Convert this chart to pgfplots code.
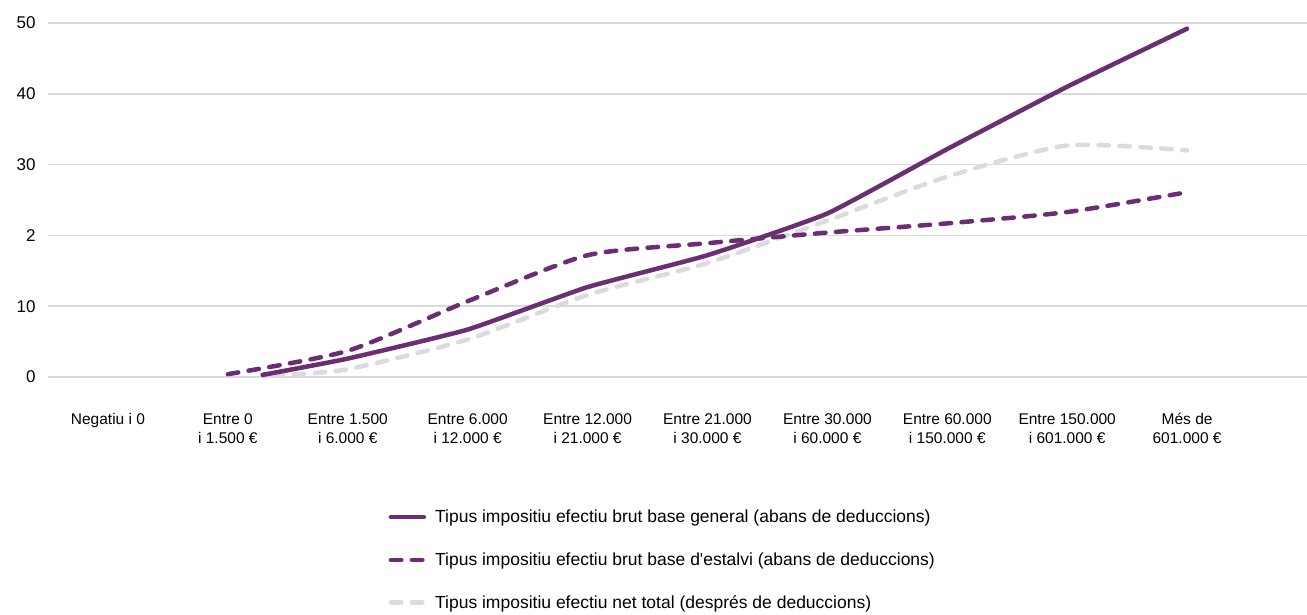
\documentclass[border=0pt]{standalone}
\usepackage{fontspec}
\setmainfont{Liberation Sans}
\usepackage{pgfplots}
\pgfplotsset{compat=1.18}

\definecolor{lila}{RGB}{106,46,114}
\definecolor{grisline}{RGB}{220,218,224}
\definecolor{gridgray}{RGB}{217,217,222}

\begin{document}
\begin{tikzpicture}
  \useasboundingbox (-48pt,-237pt) rectangle (1259pt,377pt);
  \begin{axis}[
      at={(0pt,0pt)}, anchor=south west,
      scale only axis,
      width=1259pt, height=354pt,
      xmin=-0.5, xmax=10,
      ymin=0, ymax=50,
      clip=false,
      axis line style={draw=none},
      major tick length=0pt,
      ymajorgrids, xmajorgrids=false,
      grid style={color=gridgray, line width=1.6pt},
      ytick={0,10,20,30,40,50},
      yticklabels={0,10,2,30,40,50},
      yticklabel style={font=\fontsize{17}{20}\selectfont, xshift=-9pt},
      xtick={0,...,9},
      xticklabels={
        Negatiu i 0,
        {Entre 0\\i 1.500 €},
        {Entre 1.500\\i 6.000 €},
        {Entre 6.000\\i 12.000 €},
        {Entre 12.000\\i 21.000 €},
        {Entre 21.000\\i 30.000 €},
        {Entre 30.000\\i 60.000 €},
        {Entre 60.000\\i 150.000 €},
        {Entre 150.000\\i 601.000 €},
        {Més de\\601.000 €}},
      xticklabel style={font=\fontsize{15.5}{19}\selectfont, align=center, yshift=-33pt},
      reverse legend,
      legend cell align=left,
      legend style={
        at={(0.268,-0.364)}, anchor=north west,
        draw=none, fill=none,
        font=\fontsize{17.5}{21}\selectfont,
        row sep=24.5pt,
        /tikz/every even column/.append style={column sep=0pt},
        /tikz/every odd column/.append style={column sep=7pt}},
      legend image code/.code={\draw[#1] (2pt,0pt) -- (35pt,0pt);},
    ]
    % net total (after deductions)
    \addplot[grisline, line width=4.5pt, line cap=round, dash pattern=on 10.5pt off 10.5pt, smooth, tension=0.4]
      coordinates {(1.375,0.2) (2,1.1) (3,5.3) (4,11.6) (5,16.1) (6,22.1) (7,28.3) (8,32.7) (9,32.0)};
    \addlegendentry{Tipus impositiu efectiu net total (després de deduccions)}
    % savings base
    \addplot[lila, line width=4.5pt, line cap=round, dash pattern=on 10.5pt off 10.5pt, smooth, tension=0.4]
      coordinates {(1,0.4) (2,3.7) (3,10.7) (4,17.2) (5,18.9) (6,20.4) (7,21.7) (8,23.3) (9,26.1)};
    \addlegendentry{Tipus impositiu efectiu brut base d\textquotesingle estalvi (abans de deduccions)}
    % general base
    \addplot[lila, line width=4.5pt, line cap=round, smooth, tension=0.25]
      coordinates {(1.29,0.3) (2,2.6) (3,6.7) (4,12.7) (5,17.2) (6,23.1) (7,32.2) (8,41.0) (9,49.2)};
    \addlegendentry{Tipus impositiu efectiu brut base general (abans de deduccions)}
  \end{axis}
\end{tikzpicture}
\end{document}
